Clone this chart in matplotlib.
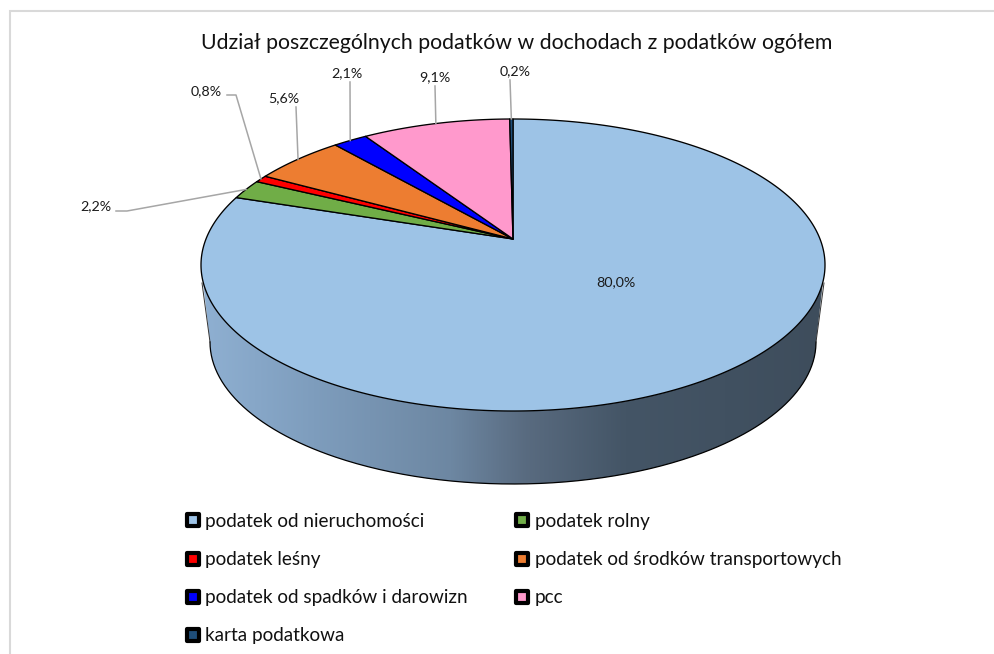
import numpy as np
import matplotlib
matplotlib.use("Agg")
import matplotlib.pyplot as plt
from matplotlib.lines import Line2D
from matplotlib.markers import MarkerStyle
from matplotlib.patches import Polygon
from matplotlib.colors import LinearSegmentedColormap

plt.rcParams['font.family'] = ['Lato', 'DejaVu Sans']

# ---- data ----
categories = ['podatek od nieruchomości', 'podatek rolny', 'podatek leśny',
              'podatek od środków transportowych', 'podatek od spadków i darowizn',
              'pcc', 'karta podatkowa']
values = [80.0, 2.2, 0.8, 5.6, 2.1, 9.1, 0.2]
value_labels = ['80,0%', '2,2%', '0,8%', '5,6%', '2,1%', '9,1%', '0,2%']
colors = ['#9DC3E6', '#70AD47', '#FF0000', '#ED7D31', '#0000FF', '#FF99CC', '#1F4E79']
title = 'Udział poszczególnych podatków w dochodach z podatków ogółem'

# ---- layout (pixels) ----
W, H = 995, 654
CX, CY, A, B = 513, 265, 312, 146      # top ellipse
CY2, A2, B2 = 342, 303, 142            # bottom ellipse of the side wall
V0 = 26 / 146                          # apex offset from ellipse centre (perspective)
# label centre and optional leader route (elbow points, from label side)
label_layout = {
    0: ((616, 282), None),
    1: ((96, 206), [(116, 211), (127, 211)]),
    2: ((206, 91), [(227, 95), (236, 95)]),
    3: ((284, 98), [(296, 107)]),
    4: ((347, 73), [(350, 82)]),
    5: ((435, 77), [(435, 86)]),
    6: ((515, 71), [(510, 80)]),
}

fig = plt.figure(figsize=(W / 100, H / 100), dpi=100, facecolor='white')
ax = fig.add_axes([0, 0, 1, 1])
ax.set_xlim(0, W)
ax.set_ylim(H, 0)
ax.axis('off')


def project(frac):
    """Fraction of the full circle (clockwise from 12 o'clock) to picture position."""
    th = 2 * np.pi * np.asarray(frac)
    X, Y = np.sin(th), np.cos(th)
    d = 1 + V0 * Y
    u = np.sqrt(1 - V0 ** 2) * X / d
    v = (Y + V0) / d
    return CX + A * u, CY - B * v


apex = (CX, CY - V0 * B)

# frame: only the top and left edges are visible, the rest is cropped
ax.plot([10, 10, W], [H, 11, 11], color='#D9D9D9', lw=1.5, zorder=1, solid_joinstyle='miter')

# side wall with horizontal gradient
t = np.linspace(-np.pi, 0, 300)
top_x, top_y = CX + A * np.cos(t), CY - B * np.sin(t)
bot_x, bot_y = CX + A2 * np.cos(t), CY2 - B2 * np.sin(t)
wall_x = np.r_[top_x, bot_x[::-1]]
wall_y = np.r_[top_y, bot_y[::-1]]
wall = Polygon(np.c_[wall_x, wall_y], closed=True, fc='none', ec='none', transform=ax.transData)
ax.add_patch(wall)
cmap = LinearSegmentedColormap.from_list('wall', [
    (0.0, '#8FB0D2'), (0.18, '#7E9DBD'), (0.40, '#6D87A2'), (0.52, '#596B80'),
    (0.68, '#445566'), (1.0, '#3E4D5C')])
img = ax.imshow(np.linspace(0, 1, 256)[None, :], extent=[CX - A, CX + A, 500, 270], cmap=cmap,
                aspect='auto', zorder=2, vmin=0, vmax=1)
img.set_clip_path(wall)
ax.set_xlim(0, W)
ax.set_ylim(H, 0)
# wall outline
ax.plot(bot_x, bot_y, color='black', lw=0.9, zorder=3)
ax.plot([CX - A + 1, CX - A2], [CY + 18, CY2], color='#333333', lw=0.7, zorder=3)
ax.plot([CX + A - 1, CX + A2], [CY + 18, CY2], color='#333333', lw=0.7, zorder=3)

# slices on top
fractions = np.array(values) / sum(values)
edges = np.r_[0, np.cumsum(fractions)]
mids = (edges[:-1] + edges[1:]) / 2
for i, col in enumerate(colors):
    f = np.linspace(edges[i], edges[i + 1], max(3, int(fractions[i] * 720)))
    x, y = project(f)
    ax.add_patch(Polygon(np.c_[np.r_[apex[0], x], np.r_[apex[1], y]], closed=True,
                         fc=col, ec='black', lw=0.95, joinstyle='round', zorder=4))

# labels and leaders
for i, lab in enumerate(value_labels):
    (lx, ly), route = label_layout[i]
    ax.text(lx, ly, lab, ha='center', va='center', fontsize=10.3, color='#1a1a1a', zorder=7)
    if route:
        mx, my = project(mids[i])
        pts = route + [(float(mx), float(my))]
        ax.plot([p[0] for p in pts], [p[1] for p in pts], color='#A6A6A6', lw=1.1, zorder=6)

ax.text(517, 43, title, ha='center', va='center', fontsize=15.3, color='#111111')

# legend
def handle(col):
    return Line2D([], [], linestyle='none',
                  marker=MarkerStyle('s', joinstyle='round'), markersize=8.2,
                  markerfacecolor=col, markeredgecolor='black', markeredgewidth=3.0)

order = [0, 2, 4, 6, 1, 3, 5]
leg = ax.legend([handle(colors[i]) for i in order], [categories[i] for i in order],
                ncol=2, frameon=False, loc='upper left',
                bbox_to_anchor=(183.5 / W, 1 - 513 / H), bbox_transform=fig.transFigure,
                fontsize=13.6, handlelength=1.0, handletextpad=0.14, markerscale=1,
                labelspacing=1.12, columnspacing=2.4, borderpad=0, borderaxespad=0)
for txt in leg.get_texts():
    txt.set_color('#111111')

fig.savefig('out.png', dpi=100, facecolor='white')
